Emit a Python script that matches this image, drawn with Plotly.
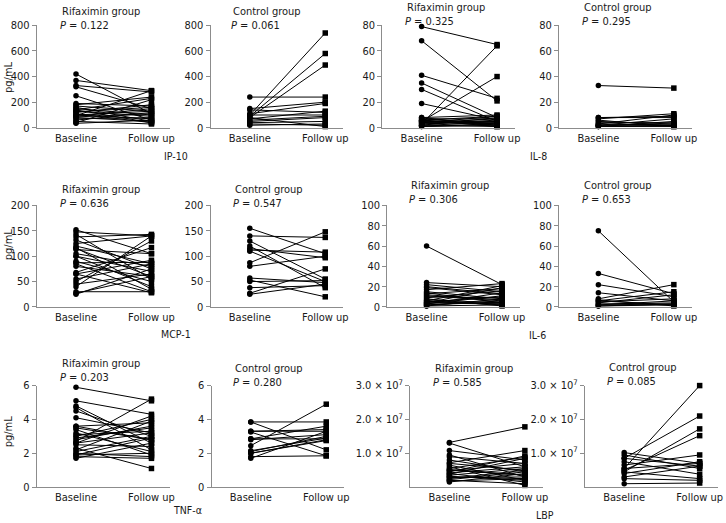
import plotly.graph_objects as go

W, H = 726, 523
x_labels = ["Baseline", "Follow up"]

# ---- data ----
ip10_rif_base = [420, 370, 330, 320, 250, 190, 180, 170, 160, 150, 140, 130, 125, 120, 110, 100, 95, 90, 85, 80, 70, 60, 50, 40, 35, 100, 140]
ip10_rif_follow = [110, 290, 280, 150, 60, 170, 240, 130, 50, 100, 230, 90, 160, 180, 40, 70, 290, 150, 110, 50, 80, 120, 30, 220, 60, 130, 40]
ip10_ctl_base = [240, 150, 140, 100, 90, 80, 110, 70, 60, 50, 40, 30, 20, 100, 80]
ip10_ctl_follow = [240, 200, 120, 740, 580, 490, 190, 130, 90, 80, 50, 20, 30, 100, 10]

il8_rif_base = [79, 68, 41, 35, 30, 19, 3, 5, 8, 7, 6, 5, 4, 3, 2, 1, 6, 8, 2, 4, 3, 1, 5, 7, 2, 4, 6]
il8_rif_follow = [65, 21, 23, 8, 5, 6, 64, 40, 10, 3, 9, 2, 7, 5, 4, 3, 1, 2, 8, 4, 6, 2, 5, 7, 1, 9, 3]
il8_ctl_base = [33, 8, 7, 5, 3, 2, 1, 6, 4, 2, 1, 3, 8, 2, 1]
il8_ctl_follow = [31, 8, 11, 3, 10, 2, 5, 1, 4, 7, 1, 2, 9, 3, 2]

mcp1_rif_base = [152, 148, 143, 138, 132, 125, 117, 115, 113, 105, 100, 90, 87, 85, 80, 68, 65, 65, 55, 50, 45, 40, 30, 27, 25, 100, 120]
mcp1_rif_follow = [105, 140, 55, 143, 75, 140, 35, 60, 105, 80, 70, 50, 88, 30, 60, 117, 92, 28, 85, 130, 65, 140, 30, 60, 75, 40, 85]
mcp1_ctl_base = [155, 140, 130, 115, 112, 110, 87, 80, 57, 53, 38, 27, 25, 120, 50]
mcp1_ctl_follow = [105, 137, 55, 97, 108, 50, 148, 100, 48, 20, 42, 75, 45, 38, 52]

il6_rif_base = [60, 24, 22, 19, 17, 15, 13, 11, 9, 7, 5, 4, 3, 2, 1, 8, 6, 10, 12, 3, 5, 2, 14, 20, 4, 1, 6]
il6_rif_follow = [22, 20, 15, 12, 23, 8, 18, 6, 16, 4, 10, 3, 14, 5, 2, 1, 21, 9, 7, 11, 3, 6, 4, 13, 19, 8, 2]
il6_ctl_base = [75, 33, 22, 14, 8, 6, 5, 3, 2, 1, 7, 4, 2, 1, 6]
il6_ctl_follow = [5, 13, 10, 6, 22, 15, 8, 4, 3, 2, 1, 12, 6, 3, 2]

tnf_rif_base = [5.9, 5.1, 4.8, 4.7, 4.5, 4.1, 3.6, 3.5, 3.4, 3.1, 3.0, 2.8, 2.7, 2.6, 2.5, 2.3, 2.1, 2.0, 1.9, 1.8, 1.7, 2.6, 3.6, 2.9, 2.2, 3.2, 1.9]
tnf_rif_follow = [5.1, 4.3, 2.6, 2.2, 3.0, 3.2, 3.8, 2.8, 1.9, 3.3, 4.0, 3.6, 5.2, 4.2, 2.4, 1.1, 3.0, 1.8, 2.0, 1.7, 2.6, 3.2, 2.8, 3.5, 3.9, 2.1, 2.9]
tnf_ctl_base = [3.85, 3.85, 3.3, 3.25, 2.85, 2.8, 2.45, 2.15, 2.1, 2.0, 1.8, 1.7, 3.3, 2.85, 2.0]
tnf_ctl_follow = [3.85, 2.2, 3.4, 1.85, 3.6, 3.1, 4.9, 2.9, 3.0, 2.8, 1.85, 3.3, 3.3, 2.85, 2.75]

lbp_rif_base = [1.32e7, 1.3e7, 1.08e7, 0.95e7, 0.8e7, 0.72e7, 0.65e7, 0.55e7, 0.5e7, 0.45e7, 0.4e7, 0.35e7, 0.3e7, 0.25e7, 0.2e7, 0.15e7, 0.6e7, 0.48e7, 0.38e7, 0.28e7, 0.22e7, 0.32e7, 0.42e7, 0.18e7, 0.7e7, 0.52e7, 0.9e7]
lbp_rif_follow = [1.78e7, 0.6e7, 0.8e7, 0.3e7, 0.45e7, 1.08e7, 0.2e7, 0.88e7, 0.35e7, 0.92e7, 0.15e7, 0.55e7, 0.25e7, 0.5e7, 0.1e7, 0.4e7, 0.05e7, 0.7e7, 0.85e7, 0.3e7, 0.45e7, 0.2e7, 0.6e7, 0.25e7, 0.5e7, 0.35e7, 0.7e7]
lbp_ctl_base = [0.55e7, 0.85e7, 0.45e7, 0.5e7, 1.02e7, 0.95e7, 0.75e7, 0.65e7, 0.4e7, 0.3e7, 0.25e7, 0.1e7, 0.45e7, 0.55e7, 0.85e7]
lbp_ctl_follow = [3.0e7, 2.1e7, 1.72e7, 1.52e7, 0.7e7, 0.55e7, 0.38e7, 0.95e7, 0.75e7, 0.62e7, 0.2e7, 0.12e7, 0.25e7, 0.7e7, 0.62e7]

p_values = ["0.122", "0.061", "0.325", "0.295", "0.636", "0.547", "0.306", "0.653", "0.203", "0.280", "0.585", "0.085"]
group_names = ["Rifaximin group", "Control group"] * 6
marker_names = ["IP-10", "IL-8", "MCP-1", "IL-6", "TNF-\u03b1", "LBP"]

lin_ticks = {
    "ip10": [0, 200, 400, 600, 800],
    "il8": [0, 20, 40, 60, 80],
    "mcp1": [0, 50, 100, 150, 200],
    "il6": [0, 20, 40, 60, 80, 100],
    "tnf": [0, 2, 4, 6],
}
lbp_tickvals = [1e7, 2e7, 3e7]
lbp_ticktext = ["1.0 \u00d7 10<sup>7</sup>", "2.0 \u00d7 10<sup>7</sup>", "3.0 \u00d7 10<sup>7</sup>"]

series = [
    (ip10_rif_base, ip10_rif_follow, "ip10"), (ip10_ctl_base, ip10_ctl_follow, "ip10"),
    (il8_rif_base, il8_rif_follow, "il8"), (il8_ctl_base, il8_ctl_follow, "il8"),
    (mcp1_rif_base, mcp1_rif_follow, "mcp1"), (mcp1_ctl_base, mcp1_ctl_follow, "mcp1"),
    (il6_rif_base, il6_rif_follow, "il6"), (il6_ctl_base, il6_ctl_follow, "il6"),
    (tnf_rif_base, tnf_rif_follow, "tnf"), (tnf_ctl_base, tnf_ctl_follow, "tnf"),
    (lbp_rif_base, lbp_rif_follow, "lbp"), (lbp_ctl_base, lbp_ctl_follow, "lbp"),
]


def fy(y):
    # vertical pixel correction measured from the rendered output
    return (y - 7.6) / 0.976


# ---- layout geometry (pixels) ----
axis_x = [37, 212, 385, 563, 37, 212, 390, 563, 37, 213, 413, 589]
row_y = [(25, 128), (206, 308), (387, 489)]
title_pos = [(60, 11), (233, 11), (408, 7), (586, 7),
             (60, 190), (235, 190), (412, 186), (586, 186),
             (60, 365), (235, 370), (436, 370), (611, 369)]
XR = [-0.52, 1.24]
UNIT = 76.0
panel_w = (XR[1] - XR[0]) * UNIT

FONT = "DejaVu Sans Condensed, DejaVu Sans, sans-serif"
AXC = "#8c8c8c"
TXT = "#1a1a1a"

fig = go.Figure()
layout = dict(width=W, height=H, margin=dict(l=0, r=0, t=0, b=0),
              paper_bgcolor="white", plot_bgcolor="white", showlegend=False,
              font=dict(family=FONT, size=11, color=TXT))
annotations = []

for i, (base, follow, kind) in enumerate(series):
    n = i + 1
    xs, ys, syms = [], [], []
    for b, f in zip(base, follow):
        xs += [0, 1, None]
        ys += [b, f, None]
        syms += ["circle", "square", "circle"]
    fig.add_trace(go.Scatter(
        x=xs, y=ys, mode="lines+markers", xaxis=f"x{n}", yaxis=f"y{n}",
        line=dict(color="black", width=1),
        marker=dict(color="black", size=5.5, symbol=syms),
        cliponaxis=False, hoverinfo="skip"))
    r = i // 4
    x0 = axis_x[i]
    y_top, y_bot = fy(row_y[r][0]), fy(row_y[r][1])
    xa = dict(domain=[x0 / W, (x0 + panel_w) / W], range=XR, anchor=f"y{n}",
              tickvals=[0, 1], ticktext=x_labels, showline=True, linecolor=AXC,
              linewidth=1, ticks="", showgrid=False, zeroline=False,
              tickfont=dict(size=11, color=TXT), fixedrange=True)
    if kind == "lbp":
        yr = [0, 3e7]
        tv, tt = lbp_tickvals, lbp_ticktext
    else:
        tv = lin_ticks[kind]
        yr = [0, tv[-1]]
        tt = [str(v) for v in tv]
    ya = dict(domain=[1 - y_bot / H, 1 - y_top / H], range=yr, anchor=f"x{n}",
              tickvals=tv, ticktext=tt, showline=True, linecolor=AXC, linewidth=1,
              ticks="outside", ticklen=4, tickcolor=AXC, showgrid=False,
              zeroline=False, tickfont=dict(size=11, color=TXT), fixedrange=True)
    layout[f"xaxis{n}"] = xa
    layout[f"yaxis{n}"] = ya
    tx, ty = title_pos[i]
    annotations.append(dict(text=group_names[i], x=tx / W, y=1 - fy(ty) / H, xref="paper", yref="paper",
                            xanchor="left", yanchor="middle", showarrow=False,
                            font=dict(size=11, color=TXT)))
    annotations.append(dict(text=f"<i>P</i> = {p_values[i]}", x=(tx - 2) / W, y=1 - fy(ty + 14) / H,
                            xref="paper", yref="paper", xanchor="left", yanchor="middle",
                            showarrow=False, font=dict(size=11, color=TXT)))

# pg/mL labels
for cy in [77, 245, 433]:
    annotations.append(dict(text="pg/mL", x=8 / W, y=1 - fy(cy) / H, xref="paper", yref="paper",
                            textangle=-90, showarrow=False, xanchor="center", yanchor="middle",
                            font=dict(size=11, color=TXT)))

# marker names
name_pos = [(177, 156), (542, 156), (177, 335), (541, 336), (189, 512), (549, 517)]
for nm, (px, py) in zip(marker_names, name_pos):
    annotations.append(dict(text=nm, x=px / W, y=1 - fy(py) / H, xref="paper", yref="paper",
                            showarrow=False, xanchor="center", yanchor="middle",
                            font=dict(size=10.5, color=TXT)))

layout["annotations"] = annotations
fig.update_layout(**layout)

page_fix = (
    "document.documentElement.style.margin='0';"
    "document.documentElement.style.overflow='hidden';"
    "document.body.style.margin='0';"
    "document.body.style.overflow='hidden';"
)
fig.write_html("out.html", config={"displayModeBar": False, "staticPlot": True},
               post_script=page_fix)
